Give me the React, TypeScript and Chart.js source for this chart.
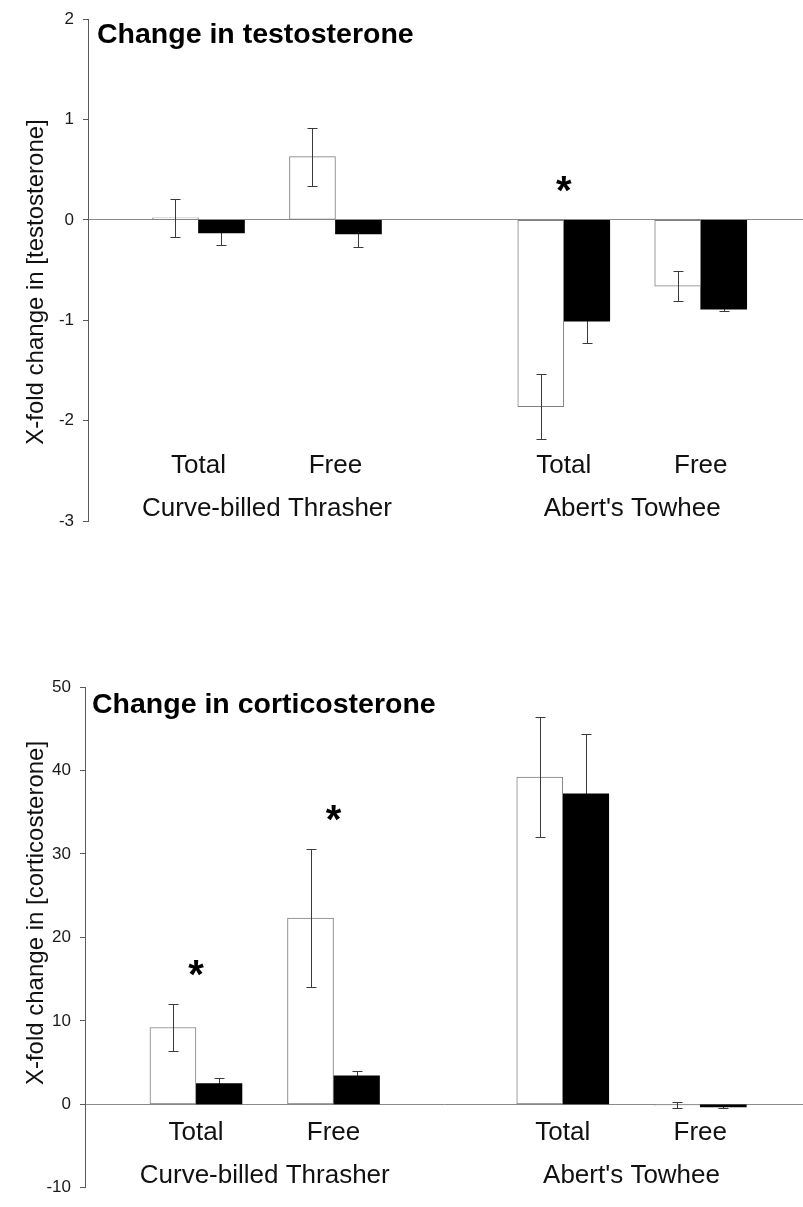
import React, { useEffect, useRef } from "react";
import { Chart, registerables } from "chart.js";

Chart.register(...registerables);

const FONT = '"Liberation Sans", Arial, Helvetica, sans-serif';

// ---------- data ----------
const hormones = ["Total", "Free"];
const species = ["Curve-billed Thrasher", "Abert's Towhee"];

// order of values: Thrasher Total, Thrasher Free, Towhee Total, Towhee Free
const testoOpen = [0.02, 0.63, -1.86, -0.66];
const testoOpenErr = [0.19, 0.29, 0.32, 0.15];
const testoFilled = [-0.13, -0.14, -1.01, -0.89];
const testoFilledErr = [0.12, 0.13, 0.22, 0.02];
const testoSignificant = [false, false, true, false];
const testoTicks = [-3, -2, -1, 0, 1, 2];

const cortOpen = [9.2, 22.3, 39.2, -0.1];
const cortOpenErr = [2.85, 8.3, 7.2, 0.35];
const cortFilled = [2.5, 3.4, 37.2, -0.3];
const cortFilledErr = [0.6, 0.6, 7.2, 0.1];
const cortSignificant = [true, true, false, false];
const cortTicks = [-10, 0, 10, 20, 30, 40, 50];

// ---------- layout helpers ----------
// group slot along a linear x axis: species apart by 8 bar-widths, hormones by 3
const slotOf = (i: number) => Math.floor(i / 2) * 8 + (i % 2) * 3;
const X_MIN = -2.42;
const X_MAX = 13.24;

type Cfg = {
  title: string;
  yTitle: string;
  open: number[];
  openErr: number[];
  filled: number[];
  filledErr: number[];
  sig: boolean[];
  ticks: number[];
  axisLeft: number;
  padTop: number;
  padBottom: number;
  yTitleX: number;
  yTitleY: number;
  titleDx: number;
  titleDy: number;
};

function drawErrors(chart: any, index: number) {
  const ds = chart.data.datasets[index];
  const meta = chart.getDatasetMeta(index);
  const ys = chart.scales.y;
  const ctx = chart.ctx;
  ctx.save();
  ctx.strokeStyle = "#3a3a3a";
  ctx.lineWidth = 1;
  meta.data.forEach((bar: any, i: number) => {
    const v = ds.data[i].y;
    const e = ds.errors[i];
    const x = Math.round(bar.x) + 0.5;
    const y1 = Math.round(ys.getPixelForValue(v + e)) + 0.5;
    const y2 = Math.round(ys.getPixelForValue(v - e)) + 0.5;
    ctx.beginPath();
    ctx.moveTo(x, y1);
    ctx.lineTo(x, y2);
    ctx.moveTo(x - 5, y1);
    ctx.lineTo(x + 5, y1);
    ctx.moveTo(x - 5, y2);
    ctx.lineTo(x + 5, y2);
    ctx.stroke();
  });
  ctx.restore();
}

function buildConfig(cfg: Cfg): any {
  const annot = {
    id: "annot",
    beforeDatasetDraw(chart: any, args: any) {
      if (chart.data.datasets[args.index].errorsBehind) drawErrors(chart, args.index);
    },
    afterDatasetDraw(chart: any, args: any) {
      if (!chart.data.datasets[args.index].errorsBehind) drawErrors(chart, args.index);
    },
    afterDraw(chart: any) {
      const ctx = chart.ctx;
      const area = chart.chartArea;
      const xs = chart.scales.x;
      const ys = chart.scales.y;
      ctx.save();
      ctx.fillStyle = "#000";
      // chart title
      ctx.font = `bold 28.5px ${FONT}`;
      ctx.textAlign = "left";
      ctx.textBaseline = "alphabetic";
      ctx.fillText(cfg.title, area.left + cfg.titleDx, area.top + cfg.titleDy);
      // y title
      ctx.save();
      ctx.font = `24px ${FONT}`;
      ctx.fillStyle = "#111";
      ctx.translate(cfg.yTitleX, cfg.yTitleY);
      ctx.rotate(-Math.PI / 2);
      ctx.textAlign = "center";
      ctx.textBaseline = "middle";
      ctx.fillText(cfg.yTitle, 0, 0);
      ctx.restore();
      // category labels
      ctx.font = `26px ${FONT}`;
      ctx.textAlign = "center";
      ctx.textBaseline = "alphabetic";
      ctx.fillStyle = "#111";
      for (let i = 0; i < species.length * hormones.length; i++) {
        const x = xs.getPixelForValue(slotOf(i));
        ctx.fillText(hormones[i % hormones.length], x, area.bottom - 48);
      }
      species.forEach((s, k) => {
        const a = xs.getPixelForValue(slotOf(k * 2));
        const b = xs.getPixelForValue(slotOf(k * 2 + 1));
        ctx.fillText(s, (a + b) / 2, area.bottom - 5);
      });
      // significance asterisks
      ctx.font = `bold 40px ${FONT}`;
      ctx.fillStyle = "#000";
      const m = ctx.measureText("*");
      const half = (m.actualBoundingBoxAscent - m.actualBoundingBoxDescent) / 2;
      cfg.sig.forEach((s, i) => {
        if (!s) return;
        const top = Math.max(0, cfg.open[i] + cfg.openErr[i], cfg.filled[i] + cfg.filledErr[i]);
        const cy = ys.getPixelForValue(top) - 36;
        ctx.fillText("*", xs.getPixelForValue(slotOf(i)), cy + half);
      });
      ctx.restore();
    },
  };

  return {
    type: "bar",
    data: {
      datasets: [
        {
          label: "Open bars",
          data: cfg.open.map((v, i) => ({ x: slotOf(i), y: v })),
          errors: cfg.openErr,
          errorsBehind: false,
          backgroundColor: "#ffffff",
          borderColor: "#7f7f7f",
          borderWidth: 1,
          borderSkipped: false,
          barThickness: 46,
        },
        {
          label: "Filled bars",
          data: cfg.filled.map((v, i) => ({ x: slotOf(i), y: v })),
          errors: cfg.filledErr,
          errorsBehind: true,
          backgroundColor: "#000000",
          borderColor: "#000000",
          borderWidth: 0,
          barThickness: 46,
        },
      ],
    },
    options: {
      animation: false,
      responsive: false,
      devicePixelRatio: 1,
      layout: { padding: { top: cfg.padTop, bottom: cfg.padBottom, left: 0, right: 0 } },
      plugins: { legend: { display: false }, tooltip: { enabled: false }, title: { display: false } },
      scales: {
        x: {
          type: "linear",
          min: X_MIN,
          max: X_MAX,
          offset: false,
          grid: { offset: false },
          display: false,
        },
        y: {
          type: "linear",
          min: cfg.ticks[0],
          max: cfg.ticks[cfg.ticks.length - 1],
          afterBuildTicks: (scale: any) => {
            scale.ticks = cfg.ticks.map((v) => ({ value: v }));
          },
          afterFit: (scale: any) => {
            scale.width = cfg.axisLeft;
          },
          border: { display: true, color: "#5a5a5a", width: 1 },
          grid: {
            drawOnChartArea: true,
            color: (c: any) => (c.tick && c.tick.value === 0 ? "#8a8a8a" : "rgba(0,0,0,0)"),
            tickColor: "#5a5a5a",
            tickLength: 5,
            lineWidth: 1,
          },
          ticks: {
            font: { family: FONT, size: 17 },
            color: "#1a1a1a",
            padding: 9,
            callback: (v: any) => String(v),
          },
        },
      },
    },
    plugins: [annot],
  };
}

function HormoneChart({ cfg, top, height }: { cfg: Cfg; top: number; height: number }) {
  const ref = useRef<HTMLCanvasElement>(null);
  useEffect(() => {
    const chart = new Chart(ref.current as HTMLCanvasElement, buildConfig(cfg));
    return () => chart.destroy();
  }, []);
  return (
    <canvas
      ref={ref}
      width={803}
      height={height}
      style={{ position: "absolute", left: 0, top, width: 803, height }}
    />
  );
}

const testoCfg: Cfg = {
  title: "Change in testosterone",
  yTitle: "X-fold change in [testosterone]",
  open: testoOpen,
  openErr: testoOpenErr,
  filled: testoFilled,
  filledErr: testoFilledErr,
  sig: testoSignificant,
  ticks: testoTicks,
  axisLeft: 88,
  padTop: 15,
  padBottom: 79,
  yTitleX: 36,
  yTitleY: 282,
  titleDx: 9,
  titleDy: 24,
};

const cortCfg: Cfg = {
  title: "Change in corticosterone",
  yTitle: "X-fold change in [corticosterone]",
  open: cortOpen,
  openErr: cortOpenErr,
  filled: cortFilled,
  filledErr: cortFilledErr,
  sig: cortSignificant,
  ticks: cortTicks,
  axisLeft: 85,
  padTop: 87,
  padBottom: 9,
  yTitleX: 36,
  yTitleY: 313,
  titleDx: 7,
  titleDy: 26,
};

export default function App() {
  return (
    <div
      style={{
        position: "absolute",
        left: 0,
        top: 0,
        width: 803,
        height: 1207,
        overflow: "hidden",
        background: "#fff",
      }}
    >
      <HormoneChart cfg={testoCfg} top={0} height={600} />
      <HormoneChart cfg={cortCfg} top={600} height={607} />
    </div>
  );
}
